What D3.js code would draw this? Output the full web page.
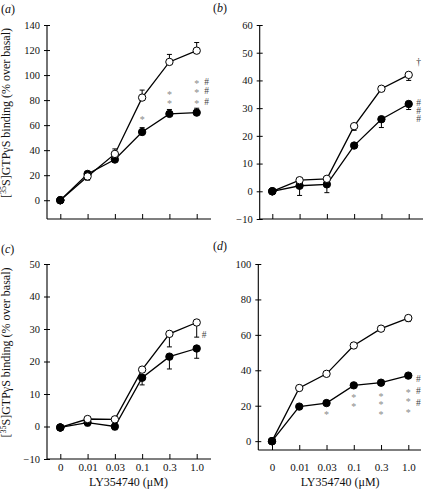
<!DOCTYPE html>
<html><head><meta charset="utf-8">
<script src="https://cdn.jsdelivr.net/npm/d3@7"></script>
<style>body{margin:0;background:#fff}svg{display:block}
svg text{font-family:"Liberation Serif","Times New Roman",Times,serif}</style>
</head><body>
<svg id="c" width="424" height="491"></svg>
<script>
const categories = ["0","0.01","0.03","0.1","0.3","1.0"];
const xTitle = "LY354740 (\u03bcM)";

// panel (a)
const aOpen = [0, 19, 37, 82, 110.5, 119.5];
const aOpenErr = [0, -3, 4, 6, 6, 6.5];
const aFilled = [0, 21, 32.5, 54.5, 69, 70];
const aFilledErr = [0, 2, 2, 3.5, 3.5, 3.5];
const aTicks = [0, 20, 40, 60, 80, 100, 120, 140];
const aNotes = [
  {cat:"0.1", sym:"*", y:65.7, col:0},
  {cat:"0.3", sym:"*", y:85.9, col:0},
  {cat:"0.3", sym:"*", y:78.7, col:0},
  {cat:"1.0", sym:"*", y:94.7, col:0},
  {cat:"1.0", sym:"*", y:87.5, col:0},
  {cat:"1.0", sym:"*", y:78.7, col:0},
  {cat:"1.0", sym:"#", y:94.7, col:1},
  {cat:"1.0", sym:"#", y:87.5, col:1},
  {cat:"1.0", sym:"#", y:78.7, col:1}
];

// panel (b)
const bOpen = [0, 4, 4.5, 23.5, 37, 42];
const bOpenErr = [0, 0, 0, -1.5, -0.5, -2];
const bFilled = [0, 2, 2.5, 16.5, 26, 31.5];
const bFilledErr = [0, -3.5, -3, 0, -3, -2];
const bTicks = [-10, 0, 10, 20, 30, 40, 50, 60];
const bNotes = [
  {cat:"1.0", sym:"\u2020", y:46.8, col:1},
  {cat:"1.0", sym:"#", y:31.9, col:1},
  {cat:"1.0", sym:"#", y:29.1, col:1},
  {cat:"1.0", sym:"#", y:26.3, col:1}
];

// panel (c)
const cOpen = [-0.3, 2.3, 2.2, 17.5, 28.5, 32];
const cOpenErr = [0, 0, 0, 0, -4, -4.5];
const cFilled = [-0.3, 1.2, 0, 15, 21.5, 24];
const cFilledErr = [0, -1, -1, -2.2, -3.8, -3];
const cTicks = [-10, 0, 10, 20, 30, 40, 50];
const cNotes = [
  {cat:"1.0", sym:"#", y:28.2, col:0.75}
];

// panel (d)
const dOpen = [0, 30, 38, 54, 63.5, 69.5];
const dOpenErr = [0, 0, 0, 0, -1.5, -2];
const dFilled = [0, 19.5, 21.5, 31.5, 33, 37];
const dFilledErr = [0, 0, 0, 0, -1.5, -1];
const dTicks = [0, 20, 40, 60, 80, 100];
const dNotes = [
  {cat:"0.03", sym:"*", y:16.4, col:0},
  {cat:"0.1", sym:"*", y:25.7, col:0},
  {cat:"0.1", sym:"*", y:20.8, col:0},
  {cat:"0.3", sym:"*", y:26.6, col:0},
  {cat:"0.3", sym:"*", y:21.7, col:0},
  {cat:"0.3", sym:"*", y:16.3, col:0},
  {cat:"1.0", sym:"*", y:28.7, col:0},
  {cat:"1.0", sym:"*", y:23.5, col:0},
  {cat:"1.0", sym:"*", y:17.4, col:0},
  {cat:"1.0", sym:"#", y:35.0, col:1},
  {cat:"1.0", sym:"#", y:28.4, col:1},
  {cat:"1.0", sym:"#", y:21.9, col:1}
];

const FONT = '"Liberation Serif","Times New Roman",Times,serif';
const svg = d3.select("#c");

const panels = [
  {label:"a", open:aOpen, openErr:aOpenErr, filled:aFilled, filledErr:aFilledErr, ticks:aTicks, notes:aNotes,
   yDom:[-15,140], axX:47, top:25, bottom:219, x0:60.3, x1:196.7, right:211, lx:1, ly:13, yTitle:true, xLabels:false, pad:5},
  {label:"b", open:bOpen, openErr:bOpenErr, filled:bFilled, filledErr:bFilledErr, ticks:bTicks, notes:bNotes,
   yDom:[-10,60], axX:259.7, top:25, bottom:219, x0:272.3, x1:408.7, right:423, lx:213, ly:12, yTitle:false, xLabels:false, pad:5},
  {label:"c", open:cOpen, openErr:cOpenErr, filled:cFilled, filledErr:cFilledErr, ticks:cTicks, notes:cNotes,
   yDom:[-10,50], axX:47, top:264, bottom:459, x0:60.3, x1:196.7, right:211, lx:1, ly:253, yTitle:true, xLabels:true, pad:4.5},
  {label:"d", open:dOpen, openErr:dOpenErr, filled:dFilled, filledErr:dFilledErr, ticks:dTicks, notes:dNotes,
   yDom:[-5,100], axX:258.3, top:264, bottom:450, x0:272, x1:408.3, right:421, lx:213, ly:250, yTitle:false, xLabels:true, pad:13.5}
];

panels.forEach(p => {
  const g = svg.append("g");
  const x = d3.scalePoint().domain(categories).range([p.x0, p.x1]);
  const y = d3.scaleLinear().domain(p.yDom).range([p.bottom, p.top]);

  const lab = g.append("text").attr("x", p.lx).attr("y", p.ly)
    .style("font-family", FONT).attr("font-size", 12).attr("fill", "#111");
  lab.append("tspan").text("(");
  lab.append("tspan").attr("font-style","italic").text(p.label);
  lab.append("tspan").text(")");

  const yAxis = d3.axisLeft(y).tickValues(p.ticks).tickSize(3).tickPadding(4)
    .tickFormat(d => d < 0 ? "\u2212" + Math.abs(d) : d);
  const ya = g.append("g").attr("transform", `translate(${p.axX},0)`).call(yAxis);
  ya.attr("font-family", null).attr("font-size", null);
  ya.select(".domain").attr("d", `M0,${y(p.ticks[p.ticks.length-1])}V${p.bottom}`).attr("stroke","#000").attr("stroke-width",1.1);
  ya.selectAll(".tick line").attr("x1", 3).attr("x2", -3).attr("stroke","#000");
  ya.selectAll(".tick text").style("font-family", FONT).attr("font-size", 10.5).attr("fill","#111");

  const xAxis = d3.axisBottom(x).tickSize(-5).tickPadding(p.pad)
    .tickFormat(d => p.xLabels ? d : "");
  const xa = g.append("g").attr("transform", `translate(0,${p.bottom})`).call(xAxis);
  xa.attr("font-family", null).attr("font-size", null);
  xa.select(".domain").attr("d", `M${p.axX},0H${p.right}`).attr("stroke","#000").attr("stroke-width",1.1);
  xa.selectAll(".tick line").attr("stroke","#000");
  xa.selectAll(".tick text").style("font-family", FONT).attr("font-size", 11).attr("fill","#111");

  if (p.xLabels) {
    g.append("text").attr("x", (p.x0 + p.x1)/2).attr("y", 486)
      .attr("text-anchor","middle").style("font-family", FONT).attr("font-size", 12).attr("fill","#111")
      .text(xTitle);
  }
  if (p.yTitle) {
    const cy = (p.top + p.bottom)/2 - 9;
    const t = g.append("text").attr("transform", `translate(10,${cy}) rotate(-90)`)
      .attr("text-anchor","middle").style("font-family", FONT).attr("font-size", 12).attr("fill","#111");
    t.append("tspan").text("[");
    t.append("tspan").attr("font-size", 8).attr("dy", -4).text("35");
    t.append("tspan").attr("dy", 4).text("S]GTP\u03b3S binding (% over basal)");
  }

  const series = [
    {vals:p.open, err:p.openErr, fill:"#fff"},
    {vals:p.filled, err:p.filledErr, fill:"#000"}
  ];
  const line = d3.line().x((d,i) => x(categories[i])).y(d => y(d));
  series.forEach(s => {
    s.vals.forEach((v,i) => {
      const e = s.err[i];
      if (!e) return;
      const cx = x(categories[i]);
      g.append("line").attr("x1",cx).attr("x2",cx).attr("y1",y(v)).attr("y2",y(v+e))
        .attr("stroke","#000").attr("stroke-width",1);
      g.append("line").attr("x1",cx-2.5).attr("x2",cx+2.5).attr("y1",y(v+e)).attr("y2",y(v+e))
        .attr("stroke","#000").attr("stroke-width",1);
    });
  });
  series.forEach(s => {
    g.append("path").datum(s.vals).attr("d", line).attr("fill","none")
      .attr("stroke","#000").attr("stroke-width",1.3);
  });
  [series[1], series[0]].forEach(s => {
    g.selectAll(null).data(s.vals).enter().append("circle")
      .attr("cx",(d,i)=>x(categories[i])).attr("cy",d=>y(d)).attr("r",3.7)
      .attr("fill", s.fill).attr("stroke","#000").attr("stroke-width",1);
  });
  g.append("circle").attr("cx", x(categories[0])).attr("cy", y(p.filled[0])).attr("r",3.7)
    .attr("fill","#000").attr("stroke","#000");

  // annotations: each stacked column of one symbol is one text element
  const groups = d3.groups(p.notes, n => n.cat + "|" + n.col + "|" + (n.sym === "*" ? "*" : "o"));
  groups.forEach(([key, items]) => {
    const isStar = items[0].sym === "*";
    const t = g.append("text").attr("text-anchor","middle").style("font-family", FONT)
      .attr("font-size", isStar ? 10 : 9.5)
      .attr("fill", isStar ? "#8a8a8a" : "#444");
    items.forEach(n => {
      t.append("tspan").attr("x", x(n.cat) + n.col*10)
        .attr("y", y(n.y) + (n.sym === "*" ? 5.5 : 3.2))
        .attr("fill", n.sym === "\u2020" ? "#333" : null)
        .text(n.sym);
    });
  });
});
</script>
</body></html>
